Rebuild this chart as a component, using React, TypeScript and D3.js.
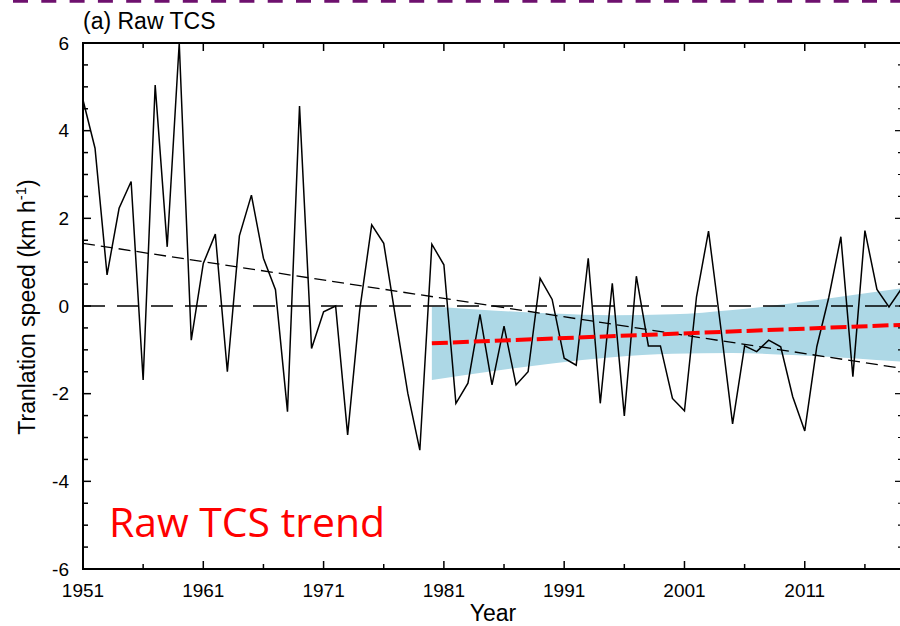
import React from "react";
import * as d3 from "d3";

// Annual mean translation speed anomaly (km h-1), 1951–2019
const firstYear = 1951;
const speedValues = [
  4.7, 3.6, 0.71, 2.23, 2.84, -1.69, 5.04, 1.35, 6.0, -0.78,
  0.97, 1.64, -1.5, 1.6, 2.53, 1.09, 0.37, -2.41, 4.56, -0.97,
  -0.13, 0.0, -2.94, -0.1, 1.85, 1.43, -0.3, -1.99, -3.29, 1.41,
  0.94, -2.22, -1.76, -0.19, -1.8, -0.46, -1.8, -1.5, 0.63, 0.15,
  -1.19, -1.35, 1.09, -2.22, 0.52, -2.51, 0.68, -0.91, -0.91, -2.11,
  -2.39, 0.21, 1.71, -0.45, -2.69, -0.91, -1.04, -0.78, -0.93, -2.07,
  -2.85, -0.93, 0.2, 1.58, -1.61, 1.72, 0.38, -0.02, 0.38,
];

// Whole-period linear trend end points
const fullTrendYears = [1951, 2019];
const fullTrendValues = [1.43, -1.42];

// 1980–2019 trend and its confidence band
const recentTrendYears = [1980, 2019];
const recentTrendValues = [-0.85, -0.43];
const bandYears = [1980, 1985, 1990, 1995, 2000, 2005, 2010, 2015, 2019];
const bandUpper = [-0.01, -0.1, -0.17, -0.21, -0.19, -0.09, 0.06, 0.25, 0.4];
const bandLower = [-1.69, -1.49, -1.31, -1.17, -1.09, -1.07, -1.12, -1.19, -1.27];

const xTickLabels = [1951, 1961, 1971, 1981, 1991, 2001, 2011];
const yTickLabels = [-6, -4, -2, 0, 2, 4, 6];

const W = 900;
const H = 626;
const left = 83;
const right = 901;
const frameRight = 903;
const top = 43;
const bottom = 569;

export default function App() {
  const x = d3.scaleLinear().domain([1951, 2019]).range([left, right]);
  const y = d3.scaleLinear().domain([-6, 6]).range([bottom, top]);

  const series = speedValues.map((v, i) => ({ yr: firstYear + i, v }));
  const line = d3
    .line<{ yr: number; v: number }>()
    .x((d) => x(d.yr))
    .y((d) => y(d.v));

  const band = d3
    .area<number>()
    .x((_, i) => x(bandYears[i]))
    .y0((_, i) => y(bandLower[i]))
    .y1((_, i) => y(bandUpper[i]))
    .curve(d3.curveMonotoneX);

  const font = "'Liberation Sans', Arial, Helvetica, sans-serif";

  const yMinor = d3.range(-6, 6.01, 0.5);
  const xMinor = d3.range(1951, 2020, 5);

  return (
    <svg
      width={W}
      height={H}
      style={{ position: "absolute", left: 0, top: 0, background: "#fff" }}
      fontFamily={font}
    >
      {/* purple dashed rule along the top */}
      <line
        x1={-15.3}
        x2={W}
        y1={1.2}
        y2={1.2}
        stroke="#6e106e"
        strokeWidth={3}
        strokeDasharray="15 13.3"
      />

      <text x={83} y={29} fontSize={23}>
        (a) Raw TCS
      </text>

      {/* confidence band */}
      <path d={band(bandYears) || ""} fill="#add8e6" stroke="none" />

      {/* zero reference */}
      <line
        x1={left}
        x2={right}
        y1={y(0)}
        y2={y(0)}
        stroke="#000"
        strokeWidth={1.6}
        strokeDasharray="22 12"
      />

      {/* whole-period trend */}
      <line
        x1={x(fullTrendYears[0])}
        x2={x(fullTrendYears[1])}
        y1={y(fullTrendValues[0])}
        y2={y(fullTrendValues[1])}
        stroke="#000"
        strokeWidth={1.3}
        strokeDasharray="12 6"
      />

      {/* data series */}
      <path d={line(series) || ""} fill="none" stroke="#000" strokeWidth={1.5} strokeLinejoin="miter" />

      {/* recent trend */}
      <line
        x1={x(recentTrendYears[0])}
        x2={x(recentTrendYears[1])}
        y1={y(recentTrendValues[0])}
        y2={y(recentTrendValues[1])}
        stroke="#ff0000"
        strokeWidth={4}
        strokeDasharray="16 5"
      />

      {/* frame */}
      <rect
        x={left}
        y={top}
        width={frameRight - left}
        height={bottom - top}
        fill="none"
        stroke="#000"
        strokeWidth={2}
      />

      {/* y ticks, both sides */}
      {yMinor.map((v) => {
        const major = Math.abs(v % 2) < 1e-6;
        const len = major ? 8 : 5;
        const rLen = major ? 8 : 5;
        return (
          <g key={"y" + v}>
            <line x1={left} x2={left + len} y1={y(v)} y2={y(v)} stroke="#000" strokeWidth={1.5} />
            <line
              x1={frameRight - rLen}
              x2={frameRight}
              y1={y(v)}
              y2={y(v)}
              stroke="#000"
              strokeWidth={1.2}
            />
          </g>
        );
      })}
      {/* x ticks */}
      {xMinor.map((yr) => {
        const major = (yr - 1951) % 10 === 0;
        const len = major ? 8 : 5;
        return (
          <g key={"x" + yr}>
            <line x1={x(yr)} x2={x(yr)} y1={bottom} y2={bottom - len} stroke="#000" strokeWidth={1.5} />
            <line x1={x(yr)} x2={x(yr)} y1={top} y2={top + len} stroke="#000" strokeWidth={1.5} />
          </g>
        );
      })}

      {yTickLabels.map((v) => (
        <text key={"yl" + v} x={69} y={y(v) + 6.8} fontSize={19} textAnchor="end">
          {v}
        </text>
      ))}
      {xTickLabels.map((yr) => (
        <text key={"xl" + yr} x={x(yr)} y={597} fontSize={19} textAnchor="middle">
          {yr}
        </text>
      ))}

      <text x={493} y={621} fontSize={23} textAnchor="middle">
        Year
      </text>
      <text transform={`translate(35,307) rotate(-90)`} fontSize={23} textAnchor="middle">
        Tranlation speed (km h
        <tspan dy={-9} fontSize={15}>
          -1
        </tspan>
        <tspan dy={9}>)</tspan>
      </text>

      <text
        x={109}
        y={537}
        fontSize={41}
        fill="#ff0000"
        fontFamily="'Open Sans', 'Noto Sans', sans-serif"
        textLength={276}
        lengthAdjust="spacingAndGlyphs"
      >
        Raw TCS trend
      </text>
    </svg>
  );
}
